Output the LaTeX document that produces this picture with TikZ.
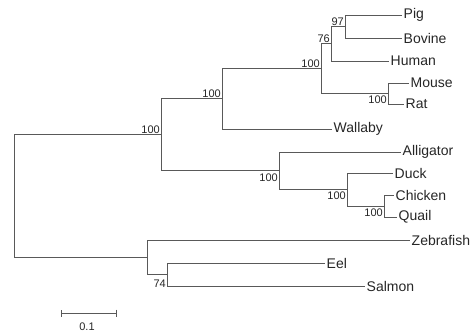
\documentclass[tikz,border=0pt]{standalone}
\usepackage{fontspec}
\setmainfont{Liberation Sans}
\usetikzlibrary{arrows.meta, positioning}

\begin{document}
\begin{tikzpicture}[x=1pt, y=-1pt,
        branch/.style={draw=black!65, line width=0.8pt},
        taxon/.style={anchor=west, inner xsep=1.5pt, inner ysep=0pt, text=black!85, font=\fontsize{14}{14}\selectfont},
        boot/.style={inner sep=1pt, text=black!85, font=\fontsize{11}{11}\selectfont},
        bootlow/.style={boot, anchor=north east, yshift=-1.5pt},
        boothigh/.style={boot, anchor=south east}
    ]
        \useasboundingbox (0,0) rectangle (473,333);

        % === Leaves ===
        \node[taxon] (pig)       at (402, 15)  {Pig};
        \node[taxon] (bovine)    at (402, 38)  {Bovine};
        \node[taxon] (human)     at (389, 61)  {Human};
        \node[taxon] (mouse)     at (409, 83)  {Mouse};
        \node[taxon] (rat)       at (404, 104) {Rat};
        \node[taxon] (wallaby)   at (332, 129) {Wallaby};
        \node[taxon] (alligator) at (401, 152) {Alligator};
        \node[taxon] (duck)      at (393, 173) {Duck};
        \node[taxon] (chicken)   at (394, 195) {Chicken};
        \node[taxon] (quail)     at (397, 217) {Quail};
        \node[taxon] (zebrafish) at (410, 240) {Zebrafish};
        \node[taxon] (eel)       at (325, 263) {Eel};
        \node[taxon] (salmon)    at (365, 286) {Salmon};

        % === Internal nodes ===
        \coordinate (n97)   at (345, 26.5);
        \coordinate (n76)   at (331, 43.8);
        \coordinate (nmr)   at (388, 93.5);
        \coordinate (npla)  at (321, 68.6);
        \coordinate (nmam)  at (222, 98.8);
        \coordinate (ncq)   at (384, 206);
        \coordinate (nbird) at (347, 189.5);
        \coordinate (nsau)  at (279, 170.8);
        \coordinate (namn)  at (161, 134.8);
        \coordinate (nes)   at (167, 274.5);
        \coordinate (nfish) at (147, 257.2);
        \coordinate (root)  at (14, 196);

        % Branches
        \draw[branch] (n97) |- (pig.west);
        \draw[branch] (n97) |- (bovine.west);
        \draw[branch] (n76) |- (n97);
        \draw[branch] (n76) |- (human.west);
        \draw[branch] (nmr) |- (mouse.west);
        \draw[branch] (nmr) |- (rat.west);
        \draw[branch] (npla) |- (n76);
        \draw[branch] (npla) |- (nmr);
        \draw[branch] (nmam) |- (npla);
        \draw[branch] (nmam) |- (wallaby.west);
        \draw[branch] (ncq) |- (chicken.west);
        \draw[branch] (ncq) |- (quail.west);
        \draw[branch] (nbird) |- (duck.west);
        \draw[branch] (nbird) |- (ncq);
        \draw[branch] (nsau) |- (alligator.west);
        \draw[branch] (nsau) |- (nbird);
        \draw[branch] (namn) |- (nmam);
        \draw[branch] (namn) |- (nsau);
        \draw[branch] (nes) |- (eel.west);
        \draw[branch] (nes) |- (salmon.west);
        \draw[branch] (nfish) |- (zebrafish.west);
        \draw[branch] (nfish) |- (nes);
        \draw[branch] (root) |- (namn);
        \draw[branch] (root) |- (nfish);

        % Bootstrap values
        \node[boothigh] (b97)   at (n97)   {97};
        \node[boothigh] (b76)   at (n76)   {76};
        \node[boothigh] (bpla)  at (npla)  {100};
        \node[boothigh] (bmam)  at (nmam)  {100};
        \node[boothigh] (bamn)  at (namn)  {100};
        \node[bootlow]  (bmr)   at (nmr)   {100};
        \node[bootlow]  (bsau)  at (nsau)  {100};
        \node[bootlow]  (bbird) at (nbird) {100};
        \node[bootlow]  (bcq)   at (ncq)   {100};
        \node[bootlow, yshift=-3pt] (bes) at (nes) {74};

        % === Scale bar ===
        \coordinate (sbl) at (61, 313);
        \coordinate (sbr) at (117, 313);
        \draw[branch, {Bar[width=7pt]}-{Bar[width=7pt]}] (sbl) -- (sbr);
        \node[boot] (sblabel) at (87, 327) {0.1};

\end{tikzpicture}
\end{document}
